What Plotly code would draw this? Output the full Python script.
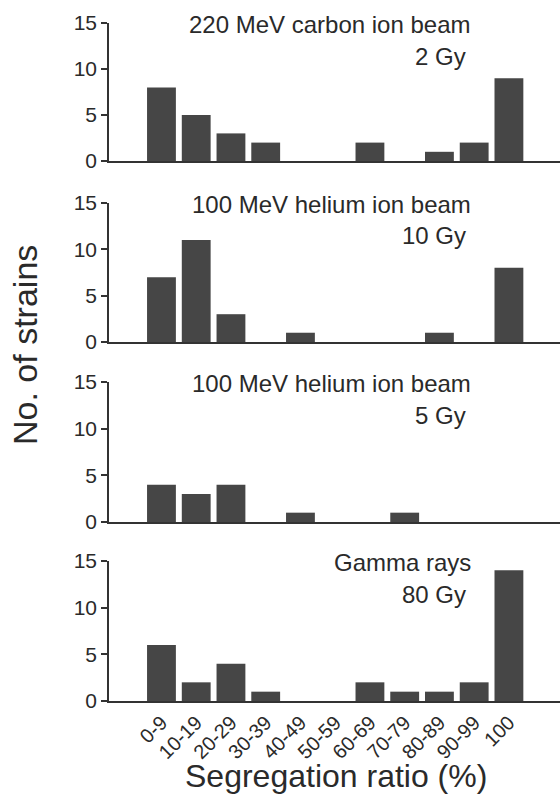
import plotly.graph_objects as go

categories = ["0-9", "10-19", "20-29", "30-39", "40-49", "50-59",
              "60-69", "70-79", "80-89", "90-99", "100"]
carbon_2gy = [8, 5, 3, 2, 0, 0, 2, 0, 1, 2, 9]
helium_10gy = [7, 11, 3, 0, 1, 0, 0, 0, 1, 0, 8]
helium_5gy = [4, 3, 4, 0, 1, 0, 0, 1, 0, 0, 0]
gamma_80gy = [6, 2, 4, 1, 0, 0, 2, 1, 1, 2, 14]

panel_line1 = ["220 MeV carbon ion beam", "100 MeV helium ion beam",
               "100 MeV helium ion beam", "Gamma rays"]
panel_line2 = ["2 Gy", "10 Gy", "5 Gy", "80 Gy"]
series = [carbon_2gy, helium_10gy, helium_5gy, gamma_80gy]
y_ticks = [0, 5, 10, 15]

W, H = 560, 800
FONT = "Liberation Sans, Arial, sans-serif"
TXT = "#2a2a2a"
BAR = "#464646"
AX = "#333333"

# panel pixel extents (top, bottom)
panels_px = [(23, 161), (203, 342), (382, 522), (561, 701)]
x_left_px = 109

fig = go.Figure()
x_idx = list(range(len(categories)))
for i, vals in enumerate(series):
    n = "" if i == 0 else str(i + 1)
    fig.add_trace(go.Bar(x=x_idx, y=vals, marker=dict(color=BAR, line=dict(width=0)),
                         width=0.83, xaxis="x" + n, yaxis="y" + n, showlegend=False,
                         hoverinfo="skip"))
    top, bot = panels_px[i]
    dom = [1 - bot / H, 1 - top / H]
    xa = dict(domain=[x_left_px / W, 1.0], range=[-1.51, 11.47], anchor="y" + n,
              automargin=False,
              showline=True, linecolor=AX, linewidth=2, showgrid=False, zeroline=False,
              tickmode="array", tickvals=x_idx, ticktext=categories,
              showticklabels=(i == 3), tickangle=-45, ticks="",
              tickfont=dict(family=FONT, size=20, color=TXT))
    ya = dict(domain=dom, range=[0, 15], anchor="x" + n, showline=True, linecolor=AX,
              automargin=False,
              linewidth=1.5, showgrid=False, zeroline=False, tickmode="array",
              tickvals=y_ticks, ticks="outside", ticklen=6, tickwidth=1.5, tickcolor=AX,
              tickfont=dict(family=FONT, size=21, color=TXT))
    fig.update_layout(**{"xaxis" + n: xa, "yaxis" + n: ya})
    fig.add_annotation(text=panel_line1[i], x=473 / W, y=1 - (top + 1) / H, xref="paper", yref="paper",
                       xanchor="right", yanchor="middle", showarrow=False,
                       font=dict(family=FONT, size=24, color=TXT))
    fig.add_annotation(text=panel_line2[i], x=468 / W, y=1 - (top + 33) / H, xref="paper", yref="paper",
                       xanchor="right", yanchor="middle", showarrow=False,
                       font=dict(family=FONT, size=24, color=TXT))

fig.add_annotation(text="Segregation ratio (%)", x=336 / W, y=1 - 776 / H, xref="paper", yref="paper",
                   xanchor="center", yanchor="middle", showarrow=False,
                   font=dict(family=FONT, size=32, color=TXT))
fig.add_annotation(text="No. of strains", x=25 / W, y=1 - 345 / H, xref="paper", yref="paper",
                   textangle=-90, xanchor="center", yanchor="middle", showarrow=False,
                   font=dict(family=FONT, size=34, color=TXT))

fig.update_layout(template="none", width=W, height=H,
                  margin=dict(l=0, r=0, t=0, b=0, pad=0, autoexpand=False),
                  paper_bgcolor="white", plot_bgcolor="white", bargap=0.17)
fig.write_html("out.html", config={"displayModeBar": False},
               post_script="document.body.style.margin='0px';")
